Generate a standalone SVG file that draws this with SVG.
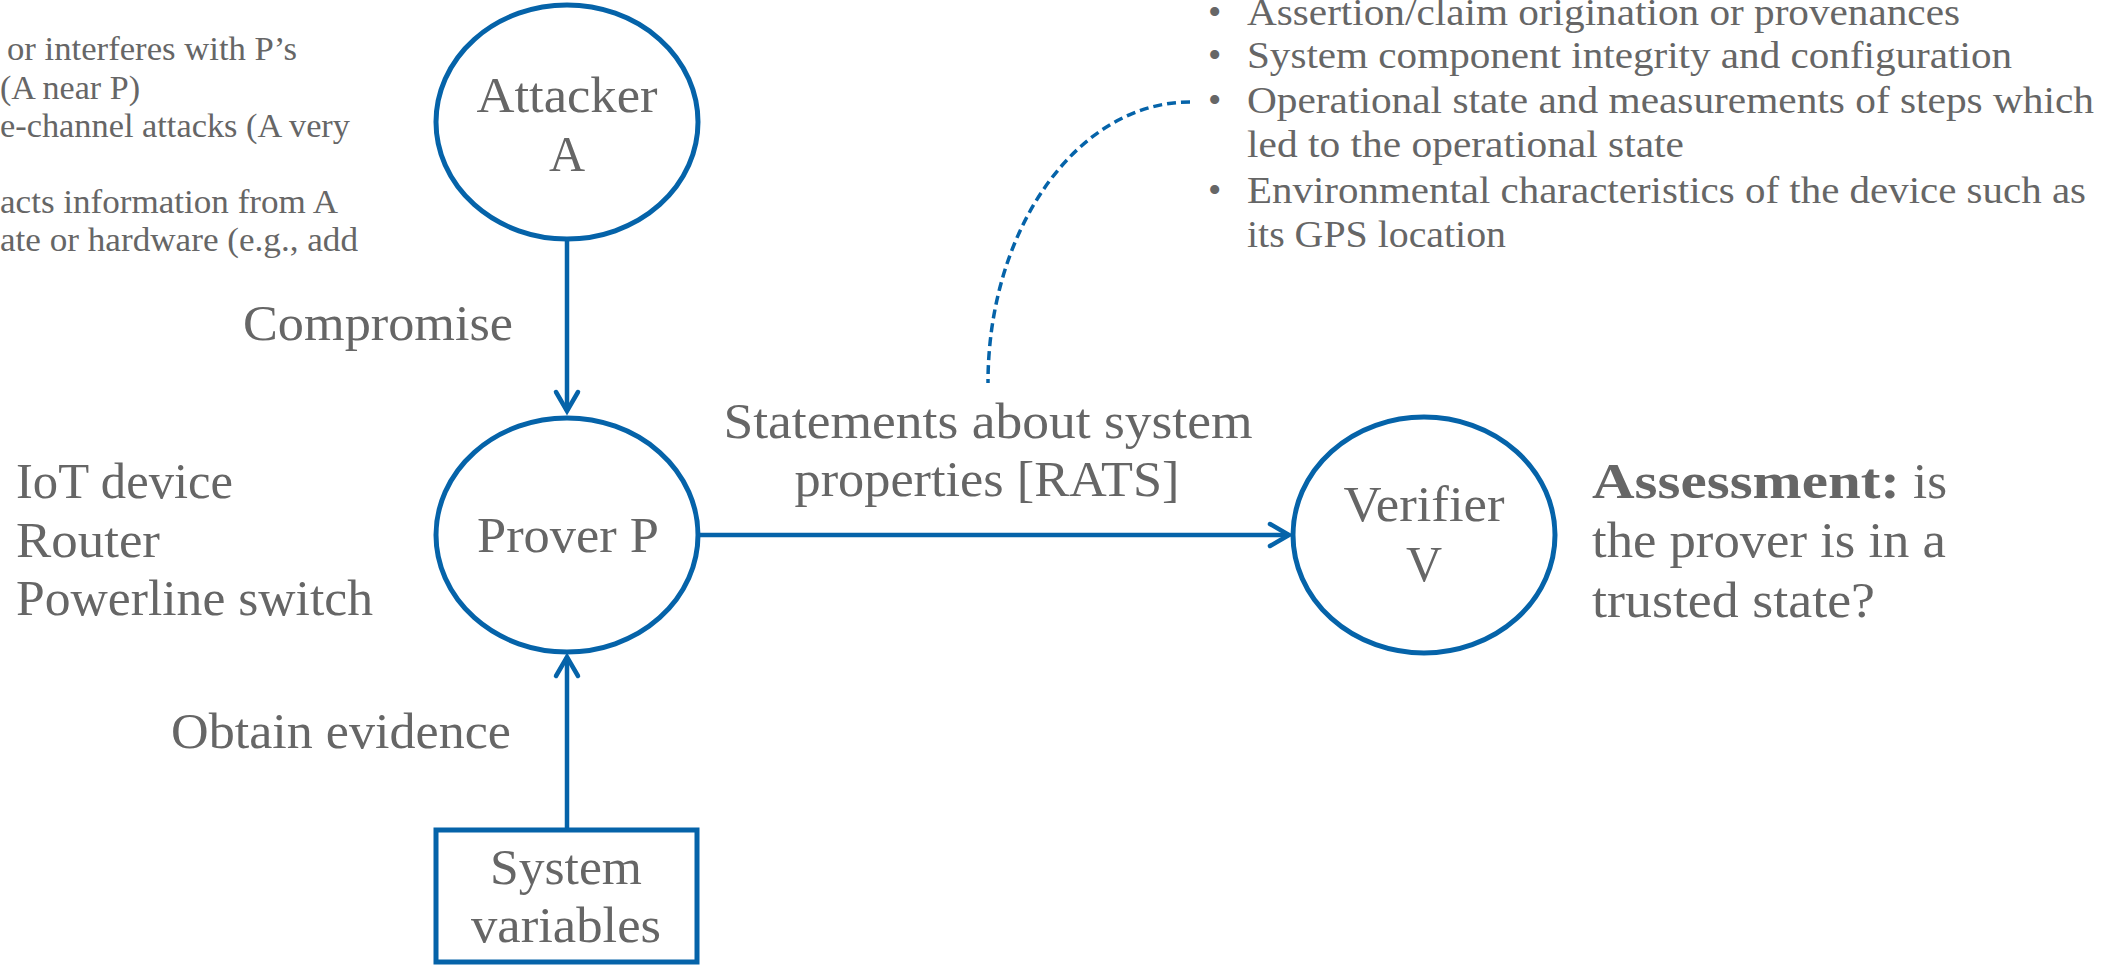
<svg xmlns="http://www.w3.org/2000/svg" width="2128" height="965" viewBox="0 0 2128 965">
  <style>
    text { font-family: "Liberation Serif", "Times New Roman", serif; fill: #666666; }
    .lg { font-size: 50px; }
    .md { font-size: 38px; }
    .sm { font-size: 33px; }
    .b { font-weight: bold; }
    .mid { text-anchor: middle; }
    .node { fill: #ffffff; stroke: #0563a9; stroke-width: 5; }
    .edge { fill: none; stroke: #0563a9; stroke-width: 4.5; }
    .dash { fill: none; stroke: #0563a9; stroke-width: 3.5; stroke-dasharray: 9 5; }
  </style>
  <defs>
    <marker id="arrow" markerUnits="userSpaceOnUse" markerWidth="36" markerHeight="32" viewBox="-26 -16 36 32" refX="0" refY="0" orient="auto">
      <path d="M-19,-11 L0,0 L-19,11" fill="none" stroke="#0563a9" stroke-width="4.5" stroke-linecap="round"/>
    </marker>
  </defs>

  <rect width="2128" height="965" fill="#ffffff"/>

  <!-- threat model notes, running off the left edge -->
  <g id="attack-notes" class="sm">
    <text x="7" y="60" textLength="290" lengthAdjust="spacingAndGlyphs">or interferes with P’s</text>
    <text x="0" y="99" textLength="140" lengthAdjust="spacingAndGlyphs">(A near P)</text>
    <text x="0" y="137" textLength="350" lengthAdjust="spacingAndGlyphs">e-channel attacks (A very</text>
    <text x="0" y="213" textLength="338" lengthAdjust="spacingAndGlyphs">acts information from A</text>
    <text x="0" y="251" textLength="358" lengthAdjust="spacingAndGlyphs">ate or hardware (e.g., add</text>
  </g>

  <!-- evidence categories -->
  <g id="evidence-list" class="md">
    <text x="1208" y="25">•</text>
    <text x="1247" y="25" textLength="713" lengthAdjust="spacingAndGlyphs">Assertion/claim origination or provenances</text>
    <text x="1208" y="68">•</text>
    <text x="1247" y="68" textLength="765" lengthAdjust="spacingAndGlyphs">System component integrity and configuration</text>
    <text x="1208" y="113">•</text>
    <text x="1247" y="113" textLength="847" lengthAdjust="spacingAndGlyphs">Operational state and measurements of steps which</text>
    <text x="1247" y="157" textLength="437" lengthAdjust="spacingAndGlyphs">led to the operational state</text>
    <text x="1208" y="203">•</text>
    <text x="1247" y="203" textLength="839" lengthAdjust="spacingAndGlyphs">Environmental characteristics of the device such as</text>
    <text x="1247" y="247" textLength="259" lengthAdjust="spacingAndGlyphs">its GPS location</text>
  </g>

  <!-- connectors -->
  <g id="connectors">
    <line class="edge" x1="567" y1="241" x2="567" y2="411" marker-end="url(#arrow)"/>
    <line class="edge" x1="567" y1="828" x2="567" y2="657" marker-end="url(#arrow)"/>
    <line class="edge" x1="699" y1="535" x2="1289" y2="535" marker-end="url(#arrow)"/>
    <path class="dash" d="M1190,102 C1078,102 988,228 988,383"/>
    <text class="lg" x="243" y="340" textLength="270" lengthAdjust="spacingAndGlyphs">Compromise</text>
    <text class="lg" x="171" y="748" textLength="340" lengthAdjust="spacingAndGlyphs">Obtain evidence</text>
    <text class="lg mid" x="988" y="438" textLength="529" lengthAdjust="spacingAndGlyphs">Statements about system</text>
    <text class="lg mid" x="987" y="496" textLength="385" lengthAdjust="spacingAndGlyphs">properties [RATS]</text>
  </g>

  <!-- nodes -->
  <g id="node-attacker">
    <ellipse class="node" cx="567" cy="122" rx="131" ry="117"/>
    <text class="lg mid" x="567" y="112" textLength="181" lengthAdjust="spacingAndGlyphs">Attacker</text>
    <text class="lg mid" x="567" y="171">A</text>
  </g>

  <g id="node-prover">
    <ellipse class="node" cx="567" cy="535" rx="131" ry="117"/>
    <text class="lg mid" x="568" y="552" textLength="182" lengthAdjust="spacingAndGlyphs">Prover P</text>
  </g>

  <g id="node-verifier">
    <ellipse class="node" cx="1424" cy="535" rx="131" ry="118"/>
    <text class="lg mid" x="1424" y="521" textLength="161" lengthAdjust="spacingAndGlyphs">Verifier</text>
    <text class="lg mid" x="1424" y="581">V</text>
  </g>

  <g id="node-system-variables">
    <rect class="node" x="436" y="830" width="261" height="132"/>
    <text class="lg mid" x="566" y="884" textLength="152" lengthAdjust="spacingAndGlyphs">System</text>
    <text class="lg mid" x="566" y="942" textLength="190" lengthAdjust="spacingAndGlyphs">variables</text>
  </g>

  <!-- prover examples -->
  <g id="prover-examples" class="lg">
    <text x="16" y="498" textLength="217" lengthAdjust="spacingAndGlyphs">IoT device</text>
    <text x="16" y="557" textLength="144" lengthAdjust="spacingAndGlyphs">Router</text>
    <text x="16" y="615" textLength="357" lengthAdjust="spacingAndGlyphs">Powerline switch</text>
  </g>

  <!-- verifier outcome -->
  <g id="assessment" class="lg">
    <text class="b" x="1592" y="498" textLength="308" lengthAdjust="spacingAndGlyphs">Assessment:</text>
    <text x="1913" y="498" textLength="34" lengthAdjust="spacingAndGlyphs">is</text>
    <text x="1592" y="557" textLength="354" lengthAdjust="spacingAndGlyphs">the prover is in a</text>
    <text x="1592" y="617" textLength="283" lengthAdjust="spacingAndGlyphs">trusted state?</text>
  </g>
</svg>
